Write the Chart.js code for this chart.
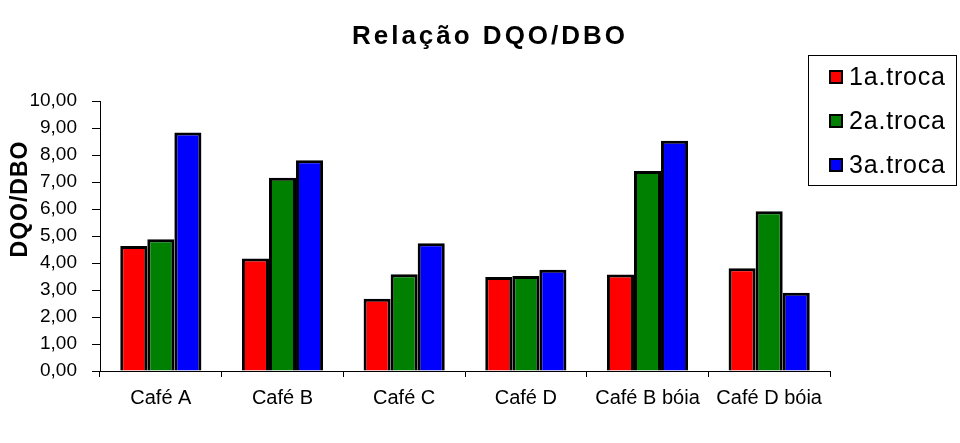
<!DOCTYPE html>
<html>
<head>
<meta charset="utf-8">
<script src="https://cdn.jsdelivr.net/npm/chart.js@4.4.1/dist/chart.umd.min.js"></script>
<style>
  html, body { margin: 0; padding: 0; background: #fff; }
  #wrap { width: 960px; height: 443px; position: relative; }
</style>
</head>
<body>
<div id="wrap"><canvas id="c" width="960" height="443"></canvas></div>
<script>
// Categories and series (DQO/DBO ratio per exchange)
const categories = ['Café A', 'Café B', 'Café C', 'Café D', 'Café B bóia', 'Café D bóia'];
const troca1 = [4.63, 4.17, 2.68, 3.48, 3.57, 3.81];
const troca2 = [4.88, 7.16, 3.58, 3.52, 7.41, 5.92];
const troca3 = [8.83, 7.81, 4.73, 3.75, 8.53, 2.90];
const seriesNames = ['1a.troca', '2a.troca', '3a.troca'];
const seriesColors = ['#FF0000', '#008000', '#0000FF'];
const chartTitle = 'Relação DQO/DBO';
const yAxisTitle = 'DQO/DBO';

const FONT = '"Liberation Sans", Arial, sans-serif';

// Title, rotated axis title and boxed legend drawn on the canvas
const decorations = {
  id: 'decorations',
  afterDraw(chart) {
    const ctx = chart.ctx;
    ctx.save();
    ctx.fillStyle = '#000';
    // title
    ctx.font = 'bold 26px ' + FONT;
    ctx.textAlign = 'center';
    ctx.textBaseline = 'middle';
    if ('letterSpacing' in ctx) ctx.letterSpacing = '3px';
    ctx.fillText(chartTitle, 490, 37);

    // y axis title
    ctx.save();
    ctx.translate(21, 199);
    ctx.rotate(-Math.PI / 2);
    ctx.font = 'bold 23px ' + FONT;
    if ('letterSpacing' in ctx) ctx.letterSpacing = '1px';
    ctx.fillText(yAxisTitle, 0, 0);
    ctx.restore();

    // legend
    const lx = 808.5, ly = 55.5, lw = 148, lh = 130;
    ctx.fillStyle = '#fff';
    ctx.fillRect(lx, ly, lw, lh);
    ctx.strokeStyle = '#000';
    ctx.lineWidth = 1;
    ctx.strokeRect(lx, ly, lw, lh);
    ctx.font = '25px ' + FONT;
    ctx.textAlign = 'left';
    ctx.textBaseline = 'middle';
    if ('letterSpacing' in ctx) ctx.letterSpacing = '0.8px';
    chart.data.datasets.forEach((ds, i) => {
      const cy = 77 + i * 44;
      ctx.fillStyle = ds.backgroundColor;
      ctx.fillRect(830, cy - 6, 12, 12);
      ctx.lineWidth = 2;
      ctx.strokeStyle = '#000';
      ctx.strokeRect(830, cy - 6, 12, 12);
      ctx.fillStyle = '#000';
      ctx.fillText(ds.label, 849, cy + 1);
    });
    ctx.restore();
  }
};

new Chart(document.getElementById('c'), {
  type: 'bar',
  data: {
    labels: categories,
    datasets: [troca1, troca2, troca3].map((vals, i) => ({
      label: seriesNames[i],
      data: vals,
      backgroundColor: seriesColors[i],
      borderColor: '#000',
      borderWidth: 3,
      borderSkipped: 'bottom',
      categoryPercentage: 0.667,
      barPercentage: 1.0
    }))
  },
  options: {
    responsive: false,
    animation: false,
    devicePixelRatio: 1,
    layout: { padding: { top: 101, right: 130, left: 0, bottom: 0 } },
    plugins: {
      legend: { display: false },
      title: { display: false },
      tooltip: { enabled: false }
    },
    scales: {
      x: {
        afterFit(scale) { scale.height = 72; },
        grid: {
          display: true,
          drawOnChartArea: false,
          drawTicks: true,
          tickLength: 6,
          color: '#000',
          offset: true
        },
        border: { display: true, color: '#000', width: 1 },
        ticks: {
          color: '#000',
          font: { family: FONT, size: 20 },
          padding: 9,
          maxRotation: 0,
          autoSkip: false
        }
      },
      y: {
        min: 0,
        max: 10,
        afterFit(scale) { scale.width = 100; },
        grid: {
          display: true,
          drawOnChartArea: false,
          drawTicks: true,
          tickLength: 8,
          color: '#000'
        },
        border: { display: true, color: '#000', width: 1 },
        ticks: {
          stepSize: 1,
          color: '#000',
          padding: 15,
          font: { family: FONT, size: 19 },
          callback: v => v.toFixed(2).replace('.', ',')
        }
      }
    }
  },
  plugins: [decorations]
});
</script>
</body>
</html>
